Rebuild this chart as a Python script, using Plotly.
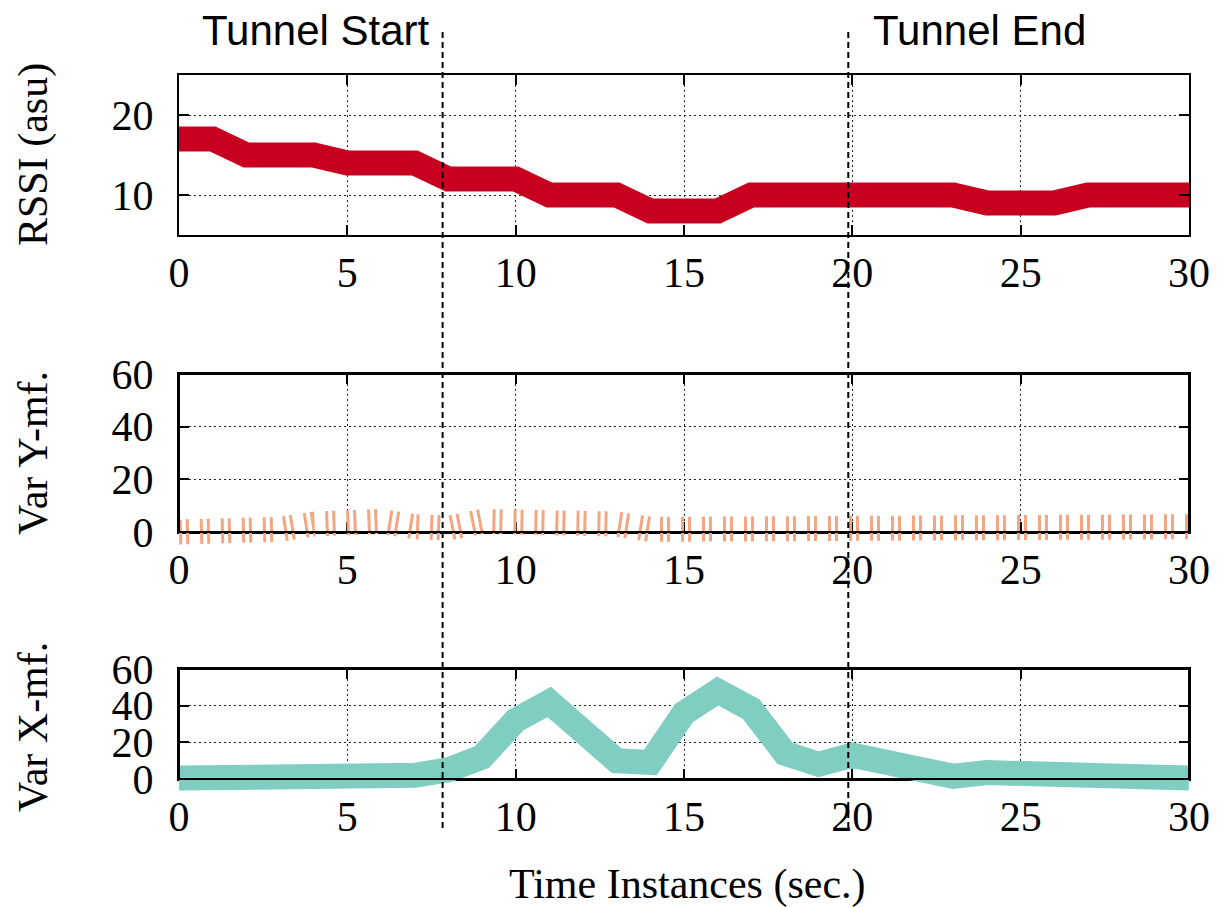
import plotly.graph_objects as go

# ---------------- data ----------------
time = list(range(31))
rssi = [17, 17, 15, 15, 15, 14, 14, 14, 12, 12, 12, 10, 10, 10, 8, 8, 8,
        10, 10, 10, 10, 10, 10, 10, 9, 9, 9, 10, 10, 10, 10]
var_y = [0, 0, 0, 1, 3, 4, 4, 2, 1.5, 4, 4, 3.5, 3.5, 3, 1, 1, 1.5, 1.5,
         2, 2, 3, 2, 2, 2, 1, 1.5, 1.5, 2, 2, 2, 2]
var_x = [0.5, 0.5, 0.5, 0.5, 1, 2.5, 2.5, 2, 5, 12, 32, 42, 26, 10, 9, 36,
         48, 38, 14, 8, 13, 10, 4, 1.5, 3.5, 3.5, 3, 1.5, 0.5, 0.5, 0.5]
tunnel_start = 7.83
tunnel_end = 19.88
x_ticks = [0, 5, 10, 15, 20, 25, 30]
rssi_ticks = [10, 20]
var_ticks = [0, 20, 40, 60]
labels = {"rssi": "RSSI (asu)", "vy": "Var Y-mf.", "vx": "Var X-mf.",
          "x": "Time Instances (sec.)", "start": "Tunnel Start", "end": "Tunnel End"}

# ---------------- geometry (pixels) ----------------
W, H = 1228, 907
ML, MR, MT, MB = 179, 39, 75, 60
PH = H - MT - MB  # plotting height in px
BOT = H - MB      # px y of paper 0


def pdom(top_px, bot_px):
    return [(BOT - bot_px) / PH, (BOT - top_px) / PH]


dom_top = pdom(75, 235)
dom_mid = pdom(374, 532)
dom_bot = pdom(669, 779)


def extended(dom, rng, ext_px=40):
    e = ext_px / PH
    upp = (rng[1] - rng[0]) / (dom[1] - dom[0])
    return [dom[0] - e, dom[1] + e], [rng[0] - e * upp, rng[1] + e * upp]


serif = "Liberation Serif"
sans = "Liberation Sans"
FS = 42
RED = "#C8001F"
SALMON = "#F4A582"
TEAL = "#80CDC1"

fig = go.Figure()

# empty traces to register the middle and bottom frame subplots
fig.add_trace(go.Scatter(x=[None], y=[None], mode="lines", xaxis="x2", yaxis="y2",
                         showlegend=False, hoverinfo="skip"))
fig.add_trace(go.Scatter(x=[None], y=[None], mode="lines", xaxis="x3", yaxis="y3",
                         showlegend=False, hoverinfo="skip"))
# RSSI on top frame directly
fig.add_trace(go.Scatter(x=time, y=rssi, mode="lines", xaxis="x", yaxis="y",
                         line=dict(color=RED, width=25), showlegend=False,
                         hoverinfo="skip"))
# middle and bottom on extended overlay subplots (to avoid clipping)
fig.add_trace(go.Scatter(x=time, y=var_y, mode="lines", xaxis="x4", yaxis="y4",
                         line=dict(color=SALMON, width=25, dash="3px,4px,3px,11px"),
                         showlegend=False, hoverinfo="skip"))
fig.add_trace(go.Scatter(x=time, y=var_x, mode="lines", xaxis="x5", yaxis="y5",
                         line=dict(color=TEAL, width=25),
                         showlegend=False, hoverinfo="skip"))

frame_x = dict(range=[0, 30], tickvals=x_ticks, showgrid=True, gridcolor="#222",
               griddash="2px,3px", gridwidth=1, showline=True, mirror="ticks",
               linecolor="black", linewidth=2, ticks="inside", ticklen=10,
               tickwidth=1.5, tickcolor="black", zeroline=False,
               tickfont=dict(family=serif, size=FS, color="black"),
               ticklabelstandoff=0, domain=[0, 1])
frame_y = dict(showgrid=True, gridcolor="#222", griddash="2px,3px", gridwidth=1,
               showline=True, mirror="ticks", linecolor="black", linewidth=2,
               ticks="inside", ticklen=10, tickwidth=1.5, tickcolor="black",
               zeroline=False, tickfont=dict(family=serif, size=FS, color="black"),
               ticklabelstandoff=15)

dm4, rg4 = extended(dom_mid, [0, 60])
dm5, rg5 = extended(dom_bot, [0, 60])
hidden = dict(visible=False, showgrid=False, zeroline=False, fixedrange=True)

fig.update_layout(
    width=W, height=H,
    margin=dict(l=ML, r=MR, t=MT, b=MB),
    paper_bgcolor="white", plot_bgcolor="rgba(0,0,0,0)",
    xaxis=dict(frame_x, anchor="y"),
    yaxis=dict(frame_y, range=[5, 25], tickvals=rssi_ticks, domain=dom_top, anchor="x"),
    xaxis2=dict(frame_x, anchor="y2"),
    yaxis2=dict(frame_y, range=[0, 60], tickvals=var_ticks, domain=dom_mid, anchor="x2"),
    xaxis3=dict(frame_x, anchor="y3"),
    yaxis3=dict(frame_y, range=[0, 60], tickvals=var_ticks, domain=dom_bot, anchor="x3"),
    xaxis4=dict(hidden, range=[0, 30], domain=[0, 1], anchor="y4"),
    yaxis4=dict(hidden, range=rg4, domain=dm4, anchor="x4"),
    xaxis5=dict(hidden, range=[0, 30], domain=[0, 1], anchor="y5"),
    yaxis5=dict(hidden, range=rg5, domain=dm5, anchor="x5"),
)

shapes = []
# borders above data for overlay panels
for dom in (dom_mid, dom_bot):
    shapes.append(dict(type="rect", xref="paper", yref="paper",
                       x0=0, x1=1, y0=dom[0], y1=dom[1], layer="above",
                       line=dict(color="black", width=2), fillcolor="rgba(0,0,0,0)"))
# tunnel markers
for tx in (tunnel_start, tunnel_end):
    shapes.append(dict(type="line", xref="x", yref="paper", x0=tx, x1=tx,
                       y0=(BOT - 828) / PH, y1=(BOT - 30) / PH, layer="above",
                       line=dict(color="black", width=2, dash="6px,4px")))
fig.update_layout(shapes=shapes)


def px_x(px):
    return (px - ML) / (W - ML - MR)


def px_y(px):
    return (BOT - px) / PH


ann = []
ann.append(dict(text=labels["start"], x=px_x(316), y=px_y(30), xref="paper", yref="paper",
                showarrow=False, font=dict(family=sans, size=FS, color="black"),
                xanchor="center", yanchor="middle"))
ann.append(dict(text=labels["end"], x=px_x(979), y=px_y(30), xref="paper", yref="paper",
                showarrow=False, font=dict(family=sans, size=FS, color="black"),
                xanchor="center", yanchor="middle"))
for key, yc in (("rssi", 155), ("vy", 453), ("vx", 727)):
    ann.append(dict(text=labels[key], x=px_x(33), y=px_y(yc), xref="paper", yref="paper",
                    showarrow=False, textangle=-90,
                    font=dict(family=serif, size=FS, color="black"),
                    xanchor="center", yanchor="middle"))
ann.append(dict(text=labels["x"], x=px_x(687), y=px_y(884), xref="paper", yref="paper",
                showarrow=False, font=dict(family=serif, size=FS, color="black"),
                xanchor="center", yanchor="middle"))
fig.update_layout(annotations=ann)

fig.write_html("out.html")
